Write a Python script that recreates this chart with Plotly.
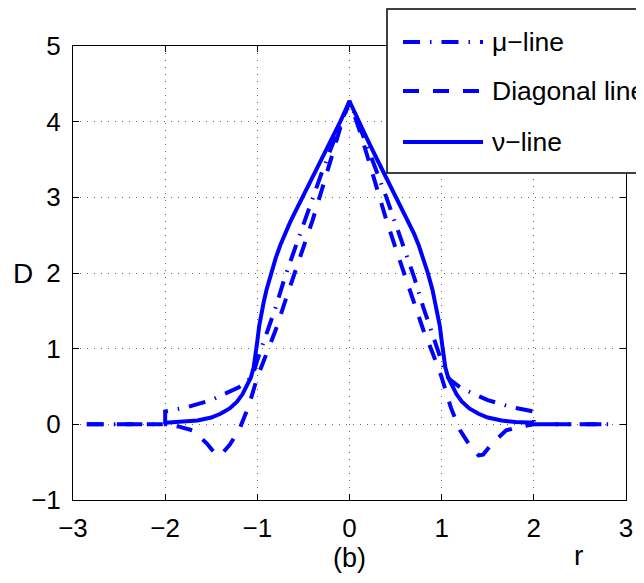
import plotly.graph_objects as go

# ---------------- data ----------------
mu_r = [-2.85, -2.0, -2.0, -1.75, -1.5, -1.35, -1.2, -1.1, -1.05, -1.0, -0.9, -0.8, -0.7, -0.6,
        -0.5, -0.4, -0.3, -0.2, -0.1, 0.0, 0.1, 0.2, 0.3, 0.4, 0.5, 0.6, 0.7, 0.8, 0.9, 1.0,
        1.05, 1.1, 1.2, 1.35, 1.5, 1.75, 2.0, 2.0, 2.85]
mu_D = [0.0, 0.0, 0.17, 0.23, 0.32, 0.40, 0.49, 0.58, 0.65, 0.85, 1.20, 1.55, 1.95, 2.30,
        2.65, 3.00, 3.33, 3.65, 3.97, 4.27, 3.97, 3.65, 3.33, 3.00, 2.65, 2.30, 1.95, 1.55, 1.20, 0.85,
        0.65, 0.58, 0.49, 0.40, 0.32, 0.23, 0.17, 0.0, 0.0]

diag_r = [-2.85, -2.0, -1.85, -1.7, -1.55, -1.45, -1.4, -1.3, -1.2, -1.1, -1.0, -0.9, -0.8, -0.7,
          -0.6, -0.5, -0.4, -0.3, -0.2, -0.1, 0.0, 0.1, 0.2, 0.3, 0.4, 0.5, 0.6, 0.7, 0.8, 0.9,
          1.0, 1.1, 1.2, 1.3, 1.4, 1.45, 1.55, 1.7, 1.85, 2.0, 2.85]
diag_D = [0.0, 0.0, -0.03, -0.08, -0.25, -0.40, -0.41, -0.27, -0.08, 0.22, 0.62, 0.95, 1.25, 1.62,
          1.98, 2.33, 2.70, 3.10, 3.52, 3.92, 4.27, 3.92, 3.52, 3.10, 2.70, 2.33, 1.98, 1.62, 1.25, 0.95,
          0.62, 0.22, -0.08, -0.27, -0.41, -0.40, -0.25, -0.08, -0.03, 0.0, 0.0]

nu_r = [-2.0, -1.8, -1.65, -1.5, -1.4, -1.3, -1.22, -1.16, -1.11, -1.07, -1.04, -1.02, -1.0, -0.98,
        -0.96, -0.93, -0.9, -0.85, -0.8, -0.75, -0.7, -0.65, -0.6, -0.5, -0.4, -0.3, -0.2, -0.1, 0.0,
        0.1, 0.2, 0.3, 0.4, 0.5, 0.6, 0.65, 0.7, 0.75, 0.8, 0.85, 0.9, 0.93, 0.96, 0.98, 1.0,
        1.02, 1.04, 1.07, 1.11, 1.16, 1.22, 1.3, 1.4, 1.5, 1.65, 1.8, 2.0]
nu_D = [0.02, 0.03, 0.05, 0.09, 0.14, 0.21, 0.30, 0.40, 0.51, 0.62, 0.75, 0.90, 1.10, 1.30,
        1.45, 1.62, 1.78, 2.00, 2.20, 2.37, 2.52, 2.655, 2.78, 3.02, 3.26, 3.50, 3.75, 4.00, 4.27,
        4.00, 3.75, 3.50, 3.26, 3.02, 2.78, 2.655, 2.52, 2.37, 2.20, 2.00, 1.78, 1.62, 1.45, 1.30, 1.10,
        0.90, 0.75, 0.62, 0.51, 0.40, 0.30, 0.21, 0.14, 0.09, 0.05, 0.03, 0.02]

x_ticks = [-3, -2, -1, 0, 1, 2, 3]
y_ticks = [-1, 0, 1, 2, 3, 4, 5]
legend_labels = ["\u03bc\u2212line", "Diagonal line", "\u03bd\u2212line"]
x_label = "(b)"
x_label2 = "r"
y_label = "D"

# ---------------- styles ----------------
BLUE = "#0000ff"
FONT = "Liberation Sans, Arial, Helvetica, sans-serif"
OFF = 8                      # page body margin in the browser
W, H = 644 - OFF, 583 - OFF
L, R, T, B = 73 - OFF, 626 - OFF, 46 - OFF, 500 - OFF
DASHDOT = "17px,10px,1.5px,10px"
DASH = "16px,14px"


def px(x):
    return (x - OFF - L) / (R - L)


def py(y):
    return (B - (y - OFF)) / (B - T)


fig = go.Figure()
fig.add_trace(go.Scatter(x=mu_r, y=mu_D, mode="lines", name=legend_labels[0],
                         line=dict(color=BLUE, width=4, dash=DASHDOT)))
fig.add_trace(go.Scatter(x=diag_r, y=diag_D, mode="lines", name=legend_labels[1],
                         line=dict(color=BLUE, width=4, dash=DASH)))
fig.add_trace(go.Scatter(x=nu_r, y=nu_D, mode="lines", name=legend_labels[2],
                         line=dict(color=BLUE, width=4)))

axis_common = dict(
    ticks="inside", ticklen=6, tickcolor="black", tickwidth=1,
    showline=True, linecolor="black", linewidth=1, mirror="ticks",
    showgrid=True, gridcolor="#666666", gridwidth=1, griddash="1px,6px",
    zeroline=False, tickfont=dict(family=FONT, size=26, color="black"),
)
fig.update_xaxes(range=[-3, 3], tickvals=x_ticks, ticklabelstandoff=5, **axis_common)
fig.update_yaxes(range=[-1, 5], tickvals=y_ticks, ticklabelstandoff=6, **axis_common)

shapes = []
shapes.append(dict(type="rect", xref="paper", yref="paper",
                   x0=px(387), x1=px(700), y0=py(173), y1=py(9),
                   fillcolor="white", line=dict(color="black", width=1.5), layer="above"))
legend_y = [42, 91, 142]
legend_dash = [DASHDOT, DASH, "solid"]
annotations = []
for lab, yy, dd in zip(legend_labels, legend_y, legend_dash):
    shapes.append(dict(type="line", xref="paper", yref="paper",
                       x0=px(403), x1=px(483), y0=py(yy), y1=py(yy),
                       line=dict(color=BLUE, width=4, dash=dd), layer="above"))
    annotations.append(dict(xref="paper", yref="paper", x=px(490), y=py(yy),
                            xanchor="left", yanchor="middle", showarrow=False,
                            text=lab, font=dict(family=FONT, size=26.5, color="black")))

annotations.append(dict(xref="paper", yref="paper", x=px(349), y=py(558),
                        xanchor="center", yanchor="middle", showarrow=False,
                        text=x_label, font=dict(family=FONT, size=27, color="black")))
annotations.append(dict(xref="paper", yref="paper", x=px(578), y=py(555),
                        xanchor="center", yanchor="middle", showarrow=False,
                        text=x_label2, font=dict(family=FONT, size=28, color="black")))
annotations.append(dict(xref="paper", yref="paper", x=px(23), y=py(273),
                        xanchor="center", yanchor="middle", showarrow=False,
                        text=y_label, font=dict(family=FONT, size=28, color="black")))

fig.update_layout(
    width=W, height=H, autosize=False,
    margin=dict(l=L, r=W - R, t=T, b=H - B, pad=0),
    plot_bgcolor="white", paper_bgcolor="white",
    showlegend=False, shapes=shapes, annotations=annotations,
)

fig.write_html("out.html")
